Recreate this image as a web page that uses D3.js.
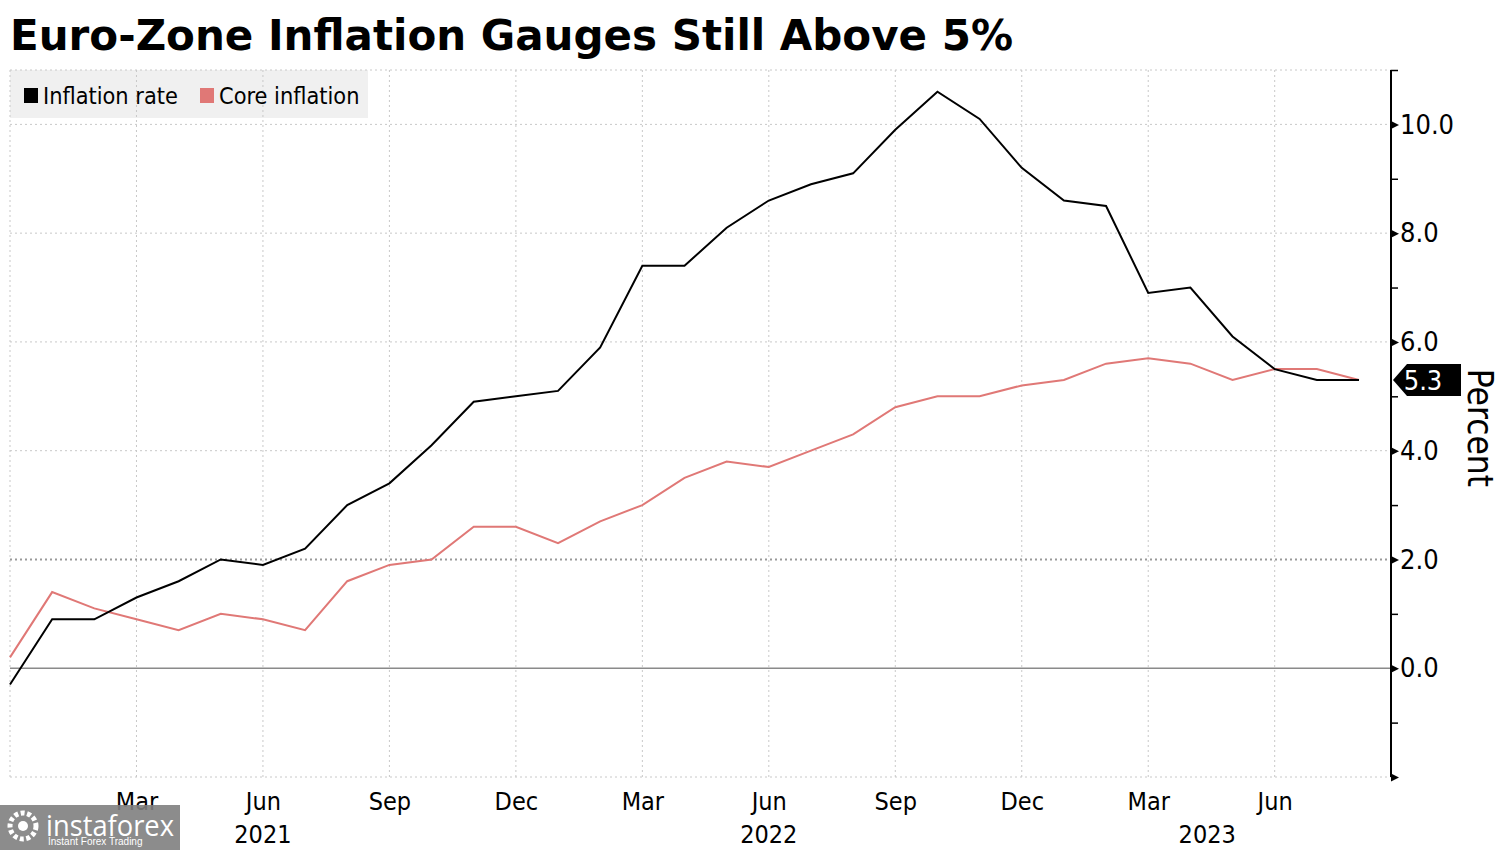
<!DOCTYPE html>
<html><head><meta charset="utf-8">
<script src="https://cdn.jsdelivr.net/npm/d3@7/dist/d3.min.js"></script>
<style>body{margin:0;background:#fff}svg{display:block}</style>
</head><body>
<svg id="c" width="1500" height="850"></svg>
<script>
const months = ["2020-12","2021-01","2021-02","2021-03","2021-04","2021-05","2021-06","2021-07","2021-08","2021-09","2021-10","2021-11","2021-12",
"2022-01","2022-02","2022-03","2022-04","2022-05","2022-06","2022-07","2022-08","2022-09","2022-10","2022-11","2022-12",
"2023-01","2023-02","2023-03","2023-04","2023-05","2023-06","2023-07","2023-08"];
const inflationRate = [-0.3,0.9,0.9,1.3,1.6,2.0,1.9,2.2,3.0,3.4,4.1,4.9,5.0,5.1,5.9,7.4,7.4,8.1,8.6,8.9,9.1,9.9,10.6,10.1,9.2,8.6,8.5,6.9,7.0,6.1,5.5,5.3,5.3];
const coreInflation = [0.2,1.4,1.1,0.9,0.7,1.0,0.9,0.7,1.6,1.9,2.0,2.6,2.6,2.3,2.7,3.0,3.5,3.8,3.7,4.0,4.3,4.8,5.0,5.0,5.2,5.3,5.6,5.7,5.6,5.3,5.5,5.5,5.3];
const gridMonths = ["2020-12","2021-03","2021-06","2021-09","2021-12","2022-03","2022-06","2022-09","2022-12","2023-03","2023-06"];
const monthTickLabels = ["","Mar","Jun","Sep","Dec","Mar","Jun","Sep","Dec","Mar","Jun"];
const yearLabels = [{m:"2021-06",t:"2021",off:0},{m:"2022-06",t:"2022",off:0},{m:"2023-04",t:"2023",off:0.4}];
const yTicks = [0,2,4,6,8,10];
const seriesNames = ["Inflation rate","Core inflation"];
const seriesColors = ["#000000","#e07876"];
const lastValue = 5.3;

const svg = d3.select("#c");
const FONT = "'DejaVu Sans Condensed','DejaVu Sans',sans-serif";
const x = d3.scalePoint().domain(months).range([10,1359]);
const y = d3.scaleLinear().domain([-2,11]).range([777,70]);
const axisX = 1391;
const step = x.step();

// Title
svg.append("text").attr("x",10).attr("y",50).attr("font-family",FONT)
  .attr("font-weight","bold").attr("font-size",42).attr("textLength",1003).attr("lengthAdjust","spacingAndGlyphs")
  .attr("fill","#000").text("Euro-Zone Inflation Gauges Still Above 5%");

// Legend background
svg.append("rect").attr("x",10).attr("y",70).attr("width",358).attr("height",48).attr("fill","#f0f0f0");

// Grid
const g = svg.append("g");
g.selectAll(".vg").data(gridMonths).join("line")
  .attr("x1",d=>x(d)).attr("x2",d=>x(d)).attr("y1",y(11)).attr("y2",y(-2))
  .attr("stroke","#c8c8c8").attr("stroke-width",1).attr("stroke-dasharray","2,3");
g.selectAll(".hg").data([11,10,8,6,4,2,-2]).join("line")
  .attr("x1",10).attr("x2",axisX).attr("y1",d=>y(d)).attr("y2",d=>y(d))
  .attr("stroke",d=>d===2?"#999":"#c8c8c8").attr("stroke-width",d=>d===2?2:1).attr("stroke-dasharray","2,3");
g.append("line").attr("x1",10).attr("x2",axisX).attr("y1",y(0)).attr("y2",y(0))
  .attr("stroke","#8a8a8a").attr("stroke-width",1.5);

// Lines
const line = d3.line().x((d,i)=>x(months[i])).y(d=>y(d));
svg.append("path").datum(coreInflation).attr("d",line).attr("fill","none")
  .attr("stroke",seriesColors[1]).attr("stroke-width",2);
svg.append("path").datum(inflationRate).attr("d",line).attr("fill","none")
  .attr("stroke",seriesColors[0]).attr("stroke-width",2);

// Right axis
const ay = svg.append("g").attr("transform",`translate(${axisX},0)`);
const yAxis = d3.axisRight(y).tickValues(d3.range(-2,12)).tickSize(7).tickFormat(d=>yTicks.includes(d)?d.toFixed(1):"");
ay.call(yAxis);
ay.select(".domain").attr("stroke","#000").attr("stroke-width",2).attr("d",`M0,${y(11)}V${y(-2)}`);
ay.selectAll(".tick line").attr("stroke","#000").attr("stroke-width",1.5)
  .attr("display",d=>yTicks.includes(d)||d===-2?"none":null);
ay.selectAll(".tick").filter(d=>yTicks.includes(d)||d===-2).append("path")
  .attr("d","M0,-4L8,0L0,4Z").attr("fill","#000");
ay.selectAll(".tick text").attr("x",9).attr("font-family",FONT).attr("font-size",27).attr("fill","#000");

// Last value tag
const ly = y(lastValue);
svg.append("path").attr("d",`M${axisX+2},${ly}L${axisX+16},${ly-16}H1461V${ly+16}H${axisX+16}Z`).attr("fill","#000");
svg.append("text").attr("x",1423).attr("y",ly+10).attr("text-anchor","middle").attr("font-family",FONT)
  .attr("font-size",27).attr("fill","#fff").text(lastValue.toFixed(1));

// Percent label
svg.append("text").attr("transform",`translate(1468,428) rotate(90)`).attr("text-anchor","middle")
  .attr("font-family",FONT).attr("font-size",35).attr("fill","#000").text("Percent");

// Bottom axis labels
const ax = svg.append("g").attr("transform",`translate(0,${y(-2)})`);
ax.call(d3.axisBottom(x).tickValues(gridMonths).tickSize(0).tickFormat((d,i)=>monthTickLabels[i]));
ax.select(".domain").remove();
ax.selectAll(".tick text").attr("dy",0).attr("y",33).attr("font-family",FONT).attr("font-size",25).attr("fill","#000");
svg.selectAll(".yr").data(yearLabels).join("text")
  .attr("x",d=>x(d.m)+d.off*step).attr("y",843).attr("text-anchor","middle")
  .attr("font-family",FONT).attr("font-size",25).attr("fill","#000").text(d=>d.t);

// Legend
const lg = svg.append("g");
const legX = [24,200];
seriesNames.forEach((n,i)=>{
  lg.append("rect").attr("x",legX[i]).attr("y",88).attr("width",14).attr("height",15).attr("fill",seriesColors[i]);
  lg.append("text").attr("x",legX[i]+19).attr("y",104).attr("font-family",FONT).attr("font-size",23.3).attr("fill","#000").text(n);
});

// Watermark
const wm = svg.append("g");
wm.append("rect").attr("x",0).attr("y",805).attr("width",180).attr("height",45).attr("fill","#808080").attr("opacity",0.9);
wm.append("circle").attr("cx",23).attr("cy",826).attr("r",13).attr("fill","none").attr("stroke","#fff").attr("stroke-width",5).attr("stroke-dasharray","4,2.5");
wm.append("circle").attr("cx",23).attr("cy",826).attr("r",5).attr("fill","#fff");
wm.append("text").attr("x",46).attr("y",836).attr("font-family","'Open Sans',sans-serif").attr("font-size",30).attr("fill","#fff").attr("textLength",128).attr("lengthAdjust","spacingAndGlyphs").text("instaforex");
wm.append("text").attr("x",48).attr("y",845).attr("font-family","'Liberation Sans',sans-serif").attr("font-size",10).attr("fill","#fff").text("Instant Forex Trading");
</script>
</body></html>
